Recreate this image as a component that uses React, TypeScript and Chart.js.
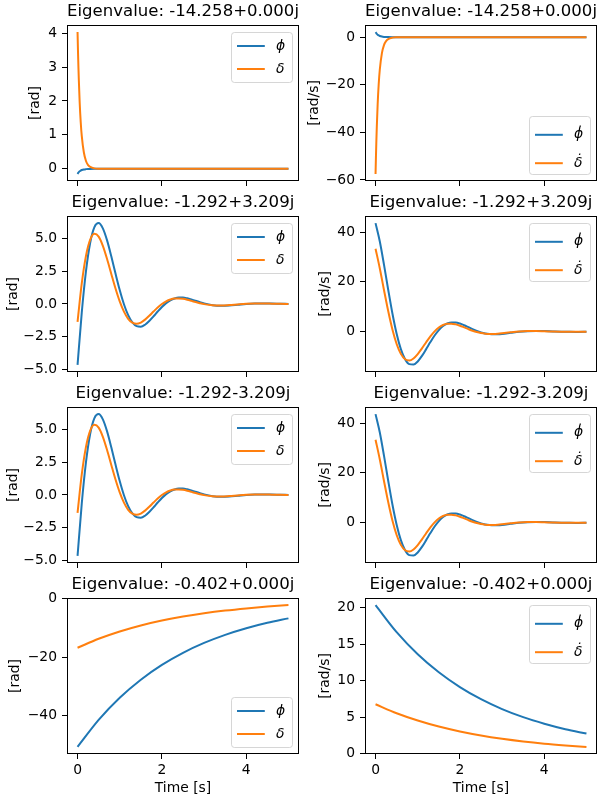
import React, { useEffect, useRef } from "react";
import { Chart, registerables } from "chart.js";

Chart.register(...registerables);

const FONT = '"DejaVu Sans", "Liberation Sans", sans-serif';
const BLUE = "#1f77b4";
const ORANGE = "#ff7f0e";

// ---------- data ----------
const titleFast = "Eigenvalue: -14.258+0.000j";
const titleOscPlus = "Eigenvalue: -1.292+3.209j";
const titleOscMinus = "Eigenvalue: -1.292-3.209j";
const titleSlow = "Eigenvalue: -0.402+0.000j";

const namesAngle = ["\u03D5", "\u03B4"];
const namesRate = ["\u03D5\u0307", "\u03B4\u0307"];

const timeTicks = [0, 2, 4];

// mode 1 (fast real)
const tFast = [0, 0.01, 0.02, 0.03, 0.05, 0.075, 0.1, 0.15, 0.2, 0.25, 0.3, 0.4, 0.5, 0.75, 1, 1.5, 2, 2.5, 3, 3.5, 4, 4.5, 5];
const phiFast = [-0.15, -0.13, -0.113, -0.098, -0.074, -0.051, -0.036, -0.018, -0.009, -0.004, -0.002, -0.0005, -0.0001, 0, 0, 0, 0, 0, 0, 0, 0, 0, 0];
const deltaFast = [4.03, 3.49, 3.03, 2.63, 1.97, 1.38, 0.97, 0.48, 0.23, 0.11, 0.056, 0.013, 0.003, 0, 0, 0, 0, 0, 0, 0, 0, 0, 0];
const phiDotFast = [2.14, 1.86, 1.61, 1.4, 1.05, 0.73, 0.51, 0.25, 0.12, 0.06, 0.03, 0.007, 0.002, 0, 0, 0, 0, 0, 0, 0, 0, 0, 0];
const deltaDotFast = [-57.46, -49.8, -43.2, -37.5, -28.2, -19.7, -13.8, -6.78, -3.32, -1.63, -0.8, -0.19, -0.05, 0, 0, 0, 0, 0, 0, 0, 0, 0, 0];

// modes 2 & 3 (oscillatory pair)
const tOsc = [0, 0.1, 0.2, 0.3, 0.4, 0.5, 0.6, 0.7, 0.8, 0.9, 1.0, 1.1, 1.2, 1.3, 1.4, 1.5, 1.6, 1.7, 1.8, 1.9, 2.0, 2.1, 2.2, 2.3, 2.4, 2.5, 2.6, 2.7, 2.8, 2.9, 3.0, 3.2, 3.4, 3.6, 3.8, 4.0, 4.2, 4.4, 4.6, 4.8, 5.0];
const phiOsc = [-4.68, -0.66, 2.515, 4.703, 5.901, 6.211, 5.802, 4.881, 3.659, 2.333, 1.066, -0.024, -0.863, -1.42, -1.703, -1.744, -1.593, -1.31, -0.955, -0.581, -0.231, 0.063, 0.283, 0.424, 0.488, 0.488, 0.436, 0.349, 0.246, 0.142, 0.046, -0.09, -0.139, -0.118, -0.064, -0.008, 0.028, 0.039, 0.032, 0.016, 0.001];
const deltaOsc = [-1.37, 1.581, 3.695, 4.942, 5.388, 5.17, 4.463, 3.45, 2.308, 1.185, 0.194, -0.592, -1.137, -1.439, -1.522, -1.427, -1.205, -0.908, -0.583, -0.272, -0.003, 0.205, 0.344, 0.416, 0.428, 0.393, 0.324, 0.236, 0.145, 0.06, -0.013, -0.103, -0.119, -0.086, -0.036, 0.007, 0.03, 0.033, 0.023, 0.009, -0.003];
const phiDotOsc = [43.59, 36.32, 26.92, 16.85, 7.31, -0.822, -7.01, -11.07, -13.03, -13.2, -11.94, -9.73, -7.0, -4.17, -1.54, 0.648, 2.27, 3.286, 3.728, 3.682, 3.26, 2.592, 1.809, 1.012, 0.293, -0.293, -0.716, -0.967, -1.059, -1.022, -0.882, -0.464, -0.044, 0.22, 0.301, 0.239, 0.117, 0.002, -0.067, -0.084, -0.064];
const deltaDotOsc = [33.3, 25.47, 16.76, 8.29, 0.88, -4.934, -8.91, -11.05, -11.55, -10.73, -8.97, -6.68, -4.22, -1.87, 0.136, 1.673, 2.683, 3.184, 3.238, 2.943, 2.407, 1.74, 1.046, 0.399, -0.141, -0.545, -0.8, -0.911, -0.903, -0.803, -0.639, -0.256, 0.067, 0.234, 0.252, 0.17, 0.061, -0.026, -0.069, -0.069, -0.045];

// mode 4 (slow real)
const tSlow = [0, 0.5, 1, 1.5, 2, 2.5, 3, 3.5, 4, 4.5, 5];
const phiSlow = [-50.6, -41.39, -33.85, -27.69, -22.64, -18.52, -15.15, -12.39, -10.14, -8.29, -6.78];
const deltaSlow = [-16.8, -13.74, -11.24, -9.19, -7.52, -6.15, -5.03, -4.11, -3.37, -2.75, -2.25];
const phiDotSlow = [20.35, 16.64, 13.61, 11.14, 9.11, 7.45, 6.09, 4.98, 4.08, 3.33, 2.73];
const deltaDotSlow = [6.75, 5.52, 4.52, 3.69, 3.02, 2.47, 2.02, 1.65, 1.35, 1.11, 0.9];

// y ticks
const yTicksFastAngle = [0, 1, 2, 3, 4];
const yTicksFastRate = [-60, -40, -20, 0];
const yTicksOscAngle = [-5, -2.5, 0, 2.5, 5];
const yTicksOscRate = [0, 20, 40];
const yTicksSlowAngle = [-40, -20, 0];
const yTicksSlowRate = [0, 5, 10, 15, 20];

// ---------- layout ----------
const COL_PLOT_LEFT = [67, 365];
const PLOT_W = 232;
const ROW_PLOT_TOP = [25, 216, 407, 598];
const PLOT_H = 156;
const AXIS_W = 67;
const TITLE_H = 25;

type Panel = {
  row: number; col: number; title: string; t: number[]; a: number[]; b: number[];
  names: string[]; yMin: number; yMax: number; yTicks: number[]; dec: number;
  yLabel: string; yLabelX: number; loc: "ur" | "lr";
};

const panels: Panel[] = [
  { row: 0, col: 0, title: titleFast, t: tFast, a: phiFast, b: deltaFast, names: namesAngle, yMin: -0.359, yMax: 4.239, yTicks: yTicksFastAngle, dec: 0, yLabel: "[rad]", yLabelX: 35.7, loc: "ur" },
  { row: 0, col: 1, title: titleFast, t: tFast, a: phiDotFast, b: deltaDotFast, names: namesRate, yMin: -60.44, yMax: 5.12, yTicks: yTicksFastRate, dec: 0, yLabel: "[rad/s]", yLabelX: 314.5, loc: "lr" },
  { row: 1, col: 0, title: titleOscPlus, t: tOsc, a: phiOsc, b: deltaOsc, names: namesAngle, yMin: -5.225, yMax: 6.755, yTicks: yTicksOscAngle, dec: 1, yLabel: "[rad]", yLabelX: 13.5, loc: "ur" },
  { row: 1, col: 1, title: titleOscPlus, t: tOsc, a: phiDotOsc, b: deltaDotOsc, names: namesRate, yMin: -16.18, yMax: 46.44, yTicks: yTicksOscRate, dec: 0, yLabel: "[rad/s]", yLabelX: 325, loc: "ur" },
  { row: 2, col: 0, title: titleOscMinus, t: tOsc, a: phiOsc, b: deltaOsc, names: namesAngle, yMin: -5.225, yMax: 6.755, yTicks: yTicksOscAngle, dec: 1, yLabel: "[rad]", yLabelX: 13.5, loc: "ur" },
  { row: 2, col: 1, title: titleOscMinus, t: tOsc, a: phiDotOsc, b: deltaDotOsc, names: namesRate, yMin: -16.18, yMax: 46.44, yTicks: yTicksOscRate, dec: 0, yLabel: "[rad/s]", yLabelX: 325, loc: "ur" },
  { row: 3, col: 0, title: titleSlow, t: tSlow, a: phiSlow, b: deltaSlow, names: namesAngle, yMin: -53.02, yMax: 0.17, yTicks: yTicksSlowAngle, dec: 0, yLabel: "[rad]", yLabelX: 15.7, loc: "lr" },
  { row: 3, col: 1, title: titleSlow, t: tSlow, a: phiDotSlow, b: deltaDotSlow, names: namesRate, yMin: -0.07, yMax: 21.32, yTicks: yTicksSlowRate, dec: 0, yLabel: "[rad/s]", yLabelX: 325, loc: "ur" },
];

const fmt = (v: number, dec: number) => (v < 0 ? "\u2212" : "") + Math.abs(v).toFixed(dec);

function SubPlot({ p }: { p: Panel }) {
  const ref = useRef<HTMLCanvasElement>(null);
  const isBottom = p.row === 3;
  const rightPad = p.col === 0 ? 2 : 3;
  const bottomH = isBottom ? 46 : 14;
  const left = COL_PLOT_LEFT[p.col] - AXIS_W;
  const top = ROW_PLOT_TOP[p.row] - TITLE_H;
  const w = AXIS_W + PLOT_W + rightPad;
  const h = TITLE_H + PLOT_H + bottomH;

  useEffect(() => {
    const canvas = ref.current;
    if (!canvas) return;
    const dotted = p.names === namesRate;
    const decor = {
      id: "mplDecor",
      afterDatasetsDraw(chart: any) {
        const { ctx, chartArea: ca } = chart;
        ctx.save();
        // frame (spines)
        ctx.strokeStyle = "#000";
        ctx.lineWidth = 1;
        ctx.strokeRect(ca.left + 0.5, ca.top + 0.5, ca.right - ca.left - 1, ca.bottom - ca.top - 1);
        // legend
        const lw = 61;
        const lh = dotted ? 58 : 50;
        const lx = Math.round(ca.right - 7 - lw) + 0.5;
        const ly = p.loc === "ur" ? Math.round(ca.top + 7) + 0.5 : Math.round(ca.bottom - 7 - lh) + 0.5;
        ctx.beginPath();
        (ctx as any).roundRect(lx, ly, lw, lh, 3);
        ctx.fillStyle = "rgba(255,255,255,0.8)";
        ctx.fill();
        ctx.strokeStyle = "rgba(204,204,204,0.8)";
        ctx.stroke();
        const rows = dotted ? [18.3, 46.7] : [13.5, 36.5];
        chart.data.datasets.forEach((ds: any, i: number) => {
          const yy = ly + rows[i];
          ctx.strokeStyle = ds.borderColor;
          ctx.lineWidth = 2;
          ctx.beginPath();
          ctx.moveTo(lx + 5.5, yy);
          ctx.lineTo(lx + 33.3, yy);
          ctx.stroke();
          ctx.fillStyle = "#000";
          ctx.font = `italic 13.89px ${FONT}`;
          ctx.textAlign = "left";
          ctx.textBaseline = "middle";
          ctx.fillText(ds.label, lx + 44.5, yy);
        });
        ctx.restore();
      },
    };

    const chart = new Chart(canvas, {
      type: "line",
      data: {
        datasets: [
          { label: p.names[0], order: 1, data: p.t.map((x, i) => ({ x, y: p.a[i] })), borderColor: BLUE, backgroundColor: BLUE, borderWidth: 2, pointRadius: 0, fill: false, cubicInterpolationMode: "monotone" },
          { label: p.names[1], order: 0, data: p.t.map((x, i) => ({ x, y: p.b[i] })), borderColor: ORANGE, backgroundColor: ORANGE, borderWidth: 2, pointRadius: 0, fill: false, cubicInterpolationMode: "monotone" },
        ],
      } as any,
      options: {
        responsive: false,
        animation: false,
        devicePixelRatio: 1,
        events: [],
        layout: { padding: { left: 0, top: 0, right: rightPad, bottom: 0 } },
        plugins: {
          legend: { display: false },
          tooltip: { enabled: false },
          title: {
            display: true,
            text: p.title,
            fullSize: false,
            color: "#000",
            font: { family: FONT, size: 16.67, weight: "normal", lineHeight: 1.2 },
            padding: { top: 1.7, bottom: 3.3 },
          },
        },
        scales: {
          x: {
            type: "linear",
            min: -0.25,
            max: 5.25,
            bounds: "data",
            afterBuildTicks: (s: any) => { s.ticks = timeTicks.map((v) => ({ value: v })); },
            afterFit: (s: any) => { s.height = bottomH; },
            ticks: {
              display: isBottom,
              autoSkip: false,
              maxRotation: 0,
              padding: 3,
              color: "#000",
              font: { family: FONT, size: 13.89 },
              callback: (v: any) => fmt(Number(v), 0),
            },
            grid: { display: true, drawOnChartArea: false, drawTicks: true, tickLength: 5, color: "#000", lineWidth: 1 },
            border: { display: false },
            title: {
              display: isBottom,
              text: "Time [s]",
              color: "#000",
              font: { family: FONT, size: 13.89 },
              padding: { top: 0, bottom: 2.9 },
            },
          },
          y: {
            type: "linear",
            min: p.yMin,
            max: p.yMax,
            bounds: "data",
            afterBuildTicks: (s: any) => { s.ticks = p.yTicks.map((v) => ({ value: v })); },
            afterFit: (s: any) => { s.width = AXIS_W; },
            ticks: {
              autoSkip: false,
              padding: 5,
              color: "#000",
              font: { family: FONT, size: 13.89 },
              callback: (v: any) => fmt(Number(v), p.dec),
            },
            grid: { display: true, drawOnChartArea: false, drawTicks: true, tickLength: 5, color: "#000", lineWidth: 1 },
            border: { display: false },
            title: {
              display: true,
              text: p.yLabel,
              color: "#000",
              font: { family: FONT, size: 13.89 },
              padding: { top: p.yLabelX - left - 8.33, bottom: 0 },
            },
          },
        },
      } as any,
      plugins: [decor],
    });
    return () => chart.destroy();
  }, []);

  return (
    <canvas
      ref={ref}
      width={w}
      height={h}
      style={{ position: "absolute", left, top, width: w, height: h, display: "block" }}
    />
  );
}

export default function App() {
  return (
    <div style={{ position: "absolute", left: 0, top: 0, width: 600, height: 800, background: "#fff" }}>
      {panels.map((p, i) => (
        <SubPlot key={i} p={p} />
      ))}
    </div>
  );
}
